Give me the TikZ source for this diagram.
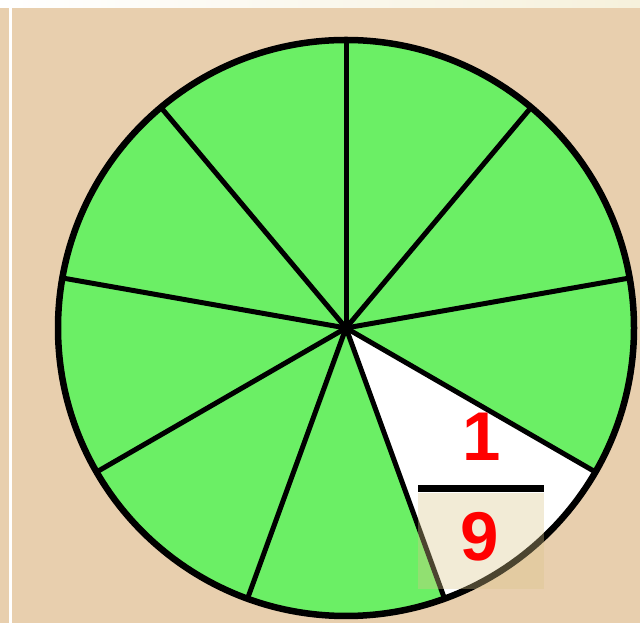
\documentclass[tikz,border=0pt]{standalone}
\usepackage{fontspec}
\setsansfont{Liberation Sans}
\usetikzlibrary{positioning}
\definecolor{cbg}{HTML}{E8CFAE}
\definecolor{cgreen}{HTML}{6BEF65}
\definecolor{cred}{HTML}{FF0000}
\definecolor{ctan}{HTML}{DAC68A}
\definecolor{cpale}{HTML}{F6F1DC}
\tikzset{
  rim/.style={draw=black, line width=6.5pt},
  spoke/.style={draw=black, line width=5pt, line cap=round},
  digit/.style={font=\sffamily\bfseries\fontsize{69}{69}\selectfont, text=cred, inner sep=0pt},
  fracbar/.style={fill=black, inner sep=0pt, minimum width=126pt, minimum height=7pt},
  denbox/.style={fill=ctan, fill opacity=0.35, inner sep=0pt, minimum width=126pt, minimum height=96pt},
}
\begin{document}
\begin{tikzpicture}[x=1pt, y=1pt]
  % background and frame strips
  \fill[cbg] (0,0) rectangle (640,623);
  \shade[left color=white, right color=cpale] (0,615) rectangle (640,623);
  \fill[white] (8.5,0) rectangle (11.5,615);
  % the pie, nine equal parts
  \coordinate (o) at (346,295);
  \fill[cgreen] (o) circle[radius=288];
  \fill[white] (o) -- ++(-30:288) arc[start angle=-30, end angle=-70, radius=288] -- cycle;
  \foreach \a in {90,50,...,-230}
    \draw[spoke] (o) -- ++(\a:288);
  \draw[rim] (o) circle[radius=288];
  % fraction label
  \node[fracbar] (bar) at (481,134) {};
  \node[denbox, below=0pt of bar] (box) {};
  \node[digit] (num) at (482,186) {1};
  \node[digit] (den) at (480,86) {9};
\end{tikzpicture}
\end{document}
